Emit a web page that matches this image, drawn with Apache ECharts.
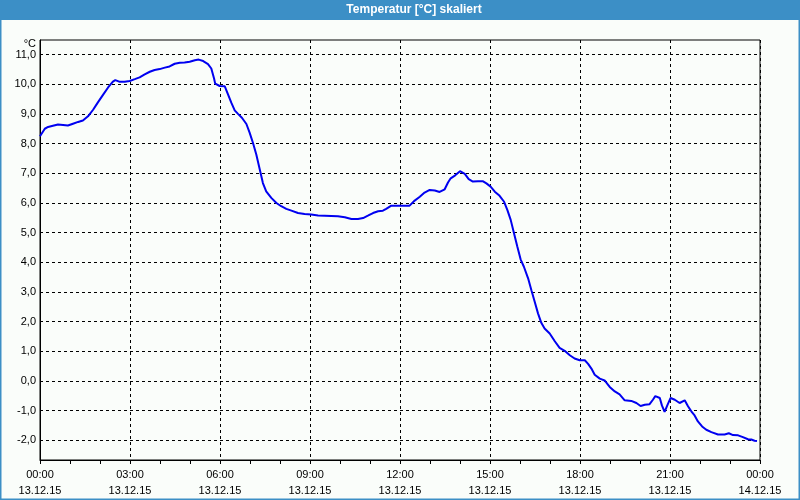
<!DOCTYPE html>
<html>
<head>
<meta charset="utf-8">
<script src="https://cdn.jsdelivr.net/npm/echarts@6/dist/echarts.min.js"></script>
<style>
html,body{margin:0;padding:0;background:#fafdfa;}
#chart{width:800px;height:500px;}
</style>
</head>
<body>
<div id="chart"></div>
<script>
var titleText = "Temperatur [°C] skaliert";
var unitLabel = "°C";
// time in hours since 13.12.15 00:00
var hours = [0.00,0.16,0.27,0.43,0.60,0.77,0.93,1.10,1.27,1.43,1.60,1.77,1.93,2.10,2.27,2.43,2.51,2.66,2.82,2.99,3.16,3.32,3.49,3.66,3.82,3.99,4.16,4.32,4.49,4.66,4.82,4.99,5.16,5.29,5.44,5.60,5.71,5.80,5.84,5.99,
  6.16,6.27,6.38,6.49,6.60,6.73,6.88,6.99,7.10,7.21,7.32,7.43,7.54,7.71,7.88,8.04,8.21,8.38,8.60,8.82,9.04,9.27,9.49,9.71,9.93,10.16,10.38,10.60,10.77,10.93,11.10,11.27,11.43,11.54,11.71,11.88,12.02,
  12.32,12.49,12.66,12.82,12.99,13.16,13.32,13.49,13.60,13.69,13.84,14.00,14.16,14.29,14.43,14.60,14.77,14.88,15.02,15.16,15.32,15.47,15.58,15.69,15.80,15.91,16.02,16.13,16.27,16.38,16.49,16.60,16.71,16.82,16.99,17.16,17.32,17.49,17.66,17.82,17.99,
  18.16,18.27,18.38,18.49,18.66,18.82,18.99,19.16,19.32,19.49,19.71,19.88,20.02,20.16,20.32,20.43,20.51,20.66,20.73,20.82,20.91,21.02,21.16,21.32,21.49,21.60,21.71,21.82,21.93,22.07,22.21,22.38,22.60,22.82,22.96,23.10,23.27,23.43,23.60,23.71,23.82,23.90];
var temps = [8.25,8.50,8.56,8.60,8.64,8.63,8.61,8.67,8.73,8.78,8.92,9.14,9.39,9.64,9.89,10.09,10.14,10.08,10.08,10.11,10.17,10.23,10.33,10.42,10.48,10.51,10.56,10.60,10.69,10.72,10.73,10.76,10.81,10.83,10.78,10.68,10.53,10.20,10.02,9.94,
  9.93,9.65,9.37,9.12,9.00,8.87,8.66,8.36,8.02,7.63,7.15,6.67,6.39,6.17,6.00,5.89,5.80,5.74,5.66,5.63,5.61,5.58,5.57,5.56,5.55,5.52,5.46,5.46,5.49,5.57,5.66,5.72,5.74,5.80,5.91,5.91,5.91,
  5.91,6.08,6.21,6.35,6.44,6.42,6.37,6.46,6.69,6.83,6.93,7.07,6.98,6.80,6.72,6.73,6.73,6.66,6.55,6.38,6.24,6.04,5.76,5.43,4.98,4.53,4.10,3.85,3.46,3.06,2.67,2.28,1.96,1.77,1.60,1.34,1.12,1.02,0.87,0.76,0.70,
  0.70,0.58,0.42,0.21,0.08,0.02,-0.20,-0.35,-0.45,-0.65,-0.67,-0.74,-0.84,-0.80,-0.78,-0.63,-0.51,-0.57,-0.82,-1.04,-0.82,-0.57,-0.63,-0.74,-0.65,-0.85,-1.02,-1.16,-1.36,-1.53,-1.64,-1.72,-1.80,-1.80,-1.76,-1.82,-1.83,-1.89,-1.96,-1.97,-2.01,-2.02];
var xTickTimes = ["00:00","03:00","06:00","09:00","12:00","15:00","18:00","21:00","00:00"];
var xTickDates = ["13.12.15","13.12.15","13.12.15","13.12.15","13.12.15","13.12.15","13.12.15","13.12.15","14.12.15"];
var yTicks = [-2,-1,0,1,2,3,4,5,6,7,8,9,10,11];
var yTickLabels = ["-2,0","-1,0","0,0","1,0","2,0","3,0","4,0","5,0","6,0","7,0","8,0","9,0","10,0","11,0"];

var data = hours.map(function(h,i){return [h,temps[i]];});
var chart = echarts.init(document.getElementById('chart'), null, {renderer:'canvas'});
var FONT = "'Liberation Sans', Arial, sans-serif";
var option = {
  animation:false,
  backgroundColor:'#fafdfa',
  graphic:[
    {type:'rect', shape:{x:0,y:0,width:800,height:20}, style:{fill:'#3c8fc6'}, silent:true},
    {type:'rect', shape:{x:0.5,y:0.5,width:799,height:499}, style:{fill:null,stroke:'#3c8fc6',lineWidth:2}, silent:true},
    {type:'text', x:414, y:10, style:{text:titleText, fill:'#ffffff', font:'bold 12px '+FONT, align:'center', verticalAlign:'middle'}, silent:true}
  ],
  grid:{left:40,right:40,top:40,bottom:40,show:true,borderColor:'#000',borderWidth:1,backgroundColor:'transparent'},
  xAxis:{
    type:'value', min:0, max:24, interval:3,
    axisLine:{show:true,onZero:false,lineStyle:{color:'#000',width:1}},
    axisTick:{show:true,length:4,inside:false,lineStyle:{color:'#000'}},
    minorTick:{show:true,splitNumber:3,length:4,lineStyle:{color:'#000'}},
    splitLine:{show:true,lineStyle:{color:'#000',type:[3,3],width:1}},
    axisLabel:{margin:7,color:'#000',fontSize:11,fontFamily:FONT,lineHeight:16,
      formatter:function(v){var i=Math.round(v/3);return xTickTimes[i]+'\n'+xTickDates[i];}}
  },
  yAxis:{
    type:'value', min:-2.66, max:11.49,
    name:unitLabel, nameLocation:'end', nameGap:0,
    nameTextStyle:{color:'#000',fontSize:11,fontFamily:FONT,align:'right',verticalAlign:'top',padding:[1,4,0,0]},
    axisLine:{show:true,onZero:false,lineStyle:{color:'#000',width:1}},
    axisTick:{show:false,customValues:yTicks},
    splitLine:{show:true,lineStyle:{color:'#000',type:[3,3],width:1}},
    axisLabel:{margin:4,color:'#000',fontSize:11,fontFamily:FONT,customValues:yTicks,
      formatter:function(v){var i=yTicks.indexOf(Math.round(v));return i>=0?yTickLabels[i]:'';}}
  },
  series:[{
    type:'line', data:data, showSymbol:false, symbol:'none',
    lineStyle:{color:'#0000f0',width:2}, clip:true
  }]
};
chart.setOption(option);
</script>
</body>
</html>
